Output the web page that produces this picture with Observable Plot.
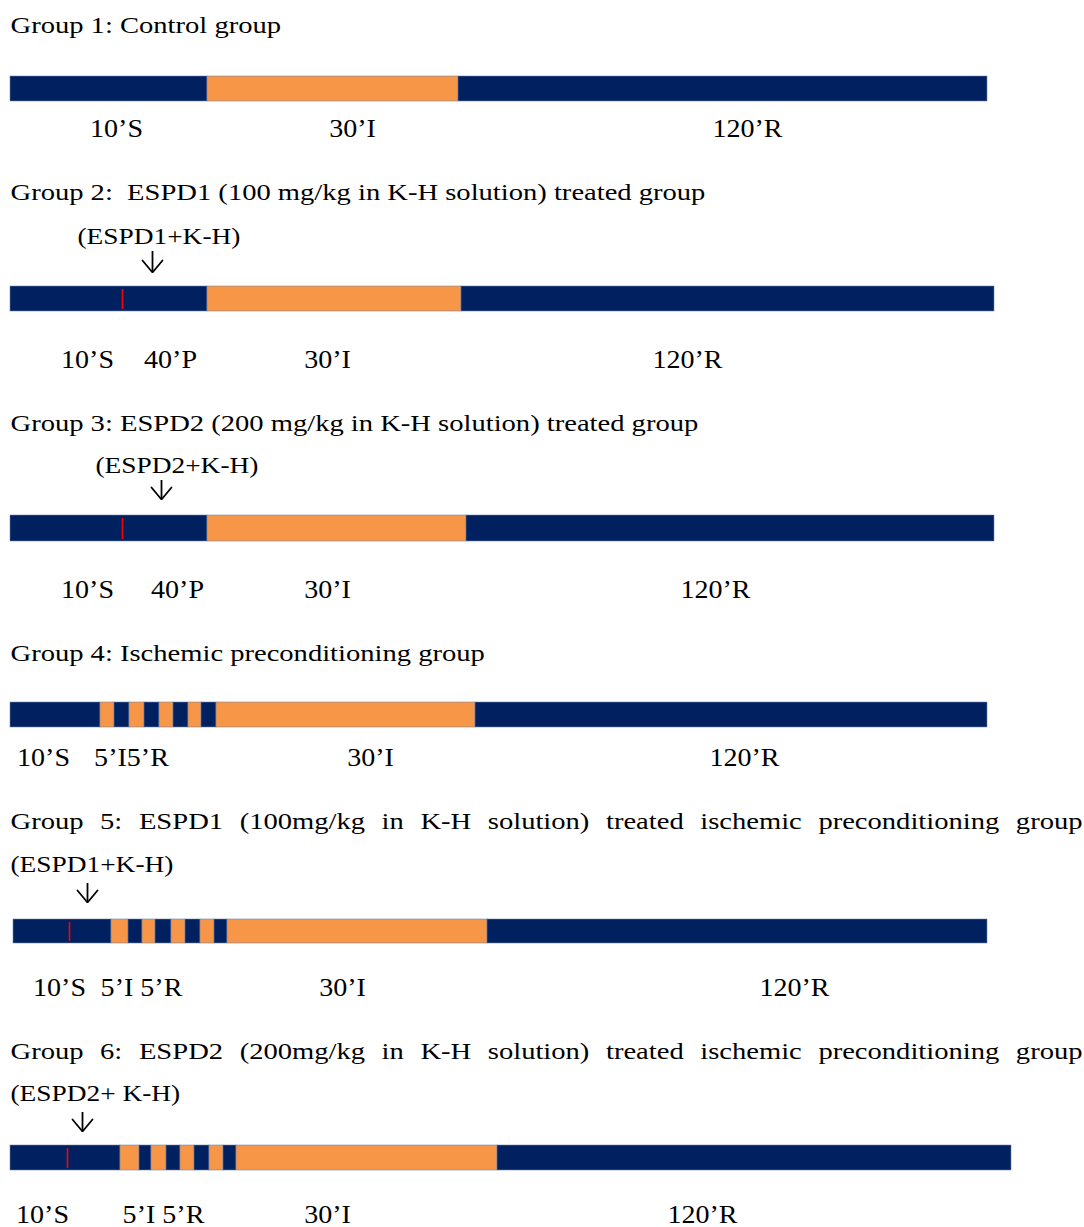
<!DOCTYPE html>
<html><head><meta charset="utf-8">
<script src="https://cdn.jsdelivr.net/npm/d3@7"></script>
<script src="https://cdn.jsdelivr.net/npm/@observablehq/plot@0.6"></script>
<style>
body{margin:0;background:#fff}
#chart svg text{white-space:pre}
</style>
</head><body><div id="chart"></div>
<script>
// ---- content ----
const groupTitles = [
  "Group 1: Control group",
  "Group 2:  ESPD1 (100 mg/kg in K-H solution) treated group",
  "Group 3: ESPD2 (200 mg/kg in K-H solution) treated group",
  "Group 4: Ischemic preconditioning group",
  "Group 5: ESPD1 (100mg/kg in K-H solution) treated ischemic preconditioning group",
  "Group 6: ESPD2 (200mg/kg in K-H solution) treated ischemic preconditioning group"
];
const justifiedTitle = [false, false, false, false, true, true];
const drugNotes = ["", "(ESPD1+K-H)", "(ESPD2+K-H)", "", "(ESPD1+K-H)", "(ESPD2+ K-H)"];
const drugNoteX = [null, 77, 95, null, 10, 10];
// boundaries of the alternating phases (perfusion / ischemia) along each bar
const phaseBounds = [
  [10, 207, 458, 987],
  [10, 207, 461, 994],
  [10, 207, 466, 994],
  [10, 100, 114, 129, 144, 159, 173, 188, 201, 216, 475, 987],
  [13, 111, 128, 142, 155, 171, 185, 200, 214, 227, 487, 987],
  [10, 120, 139, 151, 166, 180, 194, 209, 223, 236, 497, 1011]
];
const phaseLabels = [
  ["10’S", "30’I", "120’R"],
  ["10’S", "40’P", "30’I", "120’R"],
  ["10’S", "40’P", "30’I", "120’R"],
  ["10’S", "5’I5’R", "30’I", "120’R"],
  ["10’S", "5’I 5’R", "30’I", "120’R"],
  ["10’S", "5’I 5’R", "30’I", "120’R"]
];
const phaseLabelX = [
  [116, 352, 747],
  [87, 170, 327, 687],
  [87, 177, 327, 715],
  [43, 131, 370, 744],
  [59, 141, 342, 794],
  [42, 163, 327, 702]
];
const injectionX = [null, 122, 122, null, 69, 67];
const arrowX = [null, 152, 161, null, 87, 82];

// ---- vertical layout of each row ----
const titleY = [32, 199, 430, 660, 828, 1058];
const noteY = [null, 243, 472, null, 871, 1100];
const arrowTop = [null, 251, 480, null, 883, 1112];
const arrowBottom = [null, 272, 499, null, 902, 1131];
const barTop = [76, 286, 515, 702, 919, 1145];
const barBottom = [101, 311, 541, 727, 943, 1170];
const labelY = [136, 367, 597, 765, 995, 1222];

// ---- derived tables ----
const idx = d3.range(groupTitles.length);
const segments = phaseBounds.flatMap((b, g) =>
  b.slice(0, -1).map((x, i) => ({g, x1: x, x2: b[i + 1], phase: i % 2 ? "ischemia" : "perfusion"})));
const labels = phaseLabels.flatMap((ls, g) => ls.map((t, i) => ({g, text: t, x: phaseLabelX[g][i]})));
const titles = idx.map(g => ({g, text: groupTitles[g], justify: justifiedTitle[g]}));
const notes = idx.filter(g => drugNotes[g]).map(g => ({g, text: drugNotes[g], x: drugNoteX[g]}));
const arrows = idx.filter(g => arrowX[g] != null).map(g => ({g, x: arrowX[g]}));
const arrowHeads = arrows.flatMap(a => [
  {g: a.g, x: a.x - 10, y: arrowBottom[a.g] - 12},
  {g: a.g, x: a.x, y: arrowBottom[a.g]},
  {g: a.g, x: a.x + 10, y: arrowBottom[a.g] - 12}
]);
const injections = idx.filter(g => injectionX[g] != null).map(g => ({g, x: injectionX[g]}));

const W = 1084, H = 1227;
const serif = "'Liberation Serif', 'Times New Roman', serif";
const chart = Plot.plot({
  width: W, height: H,
  margin: 0,
  x: {domain: [0, W], range: [0, W], axis: null},
  y: {domain: [0, H], range: [0, H], axis: null},
  color: {domain: ["perfusion", "ischemia"], range: ["#002060", "#F79646"]},
  style: {fontFamily: serif, fontSize: "24px", background: "#fff", color: "#000"},
  marks: [
    Plot.rect(segments, {
      x1: "x1", x2: "x2",
      y1: d => barTop[d.g], y2: d => barBottom[d.g],
      fill: "phase", stroke: "#6f85ad", strokeWidth: 0.8, strokeOpacity: 0.7
    }),
    Plot.ruleX(injections, {
      x: "x", y1: d => barTop[d.g] + 3, y2: d => barBottom[d.g] - 2,
      stroke: "#ff0000", strokeWidth: 1.6
    }),
    Plot.ruleX(arrows, {
      x: "x", y1: d => arrowTop[d.g], y2: d => arrowBottom[d.g],
      stroke: "#000", strokeWidth: 1.8
    }),
    Plot.line(arrowHeads, {
      x: "x", y: "y", z: "g", stroke: "#000", strokeWidth: 1.8, strokeLinejoin: "miter"
    }),
    Plot.text(titles, {
      x: () => 10, y: d => titleY[d.g], text: "text",
      textAnchor: "start", lineAnchor: "bottom", fill: "#000", fontSize: 24,
      className: "group-title"
    }),
    Plot.text(notes, {
      x: "x", y: d => noteY[d.g], text: "text",
      textAnchor: "start", lineAnchor: "bottom", fill: "#000", fontSize: 24,
      className: "drug-note"
    }),
    Plot.text(labels, {
      x: "x", y: d => labelY[d.g], text: "text",
      textAnchor: "middle", lineAnchor: "bottom", fill: "#000", fontSize: 25.5,
      className: "phase-label"
    })
  ]
});
document.getElementById("chart").appendChild(chart);

// The source document's type is horizontally wide; widen the glyphs to match,
// and justify the two long titles to the right margin.
const rightEdge = 1082;
function widen(sel, k, justifyOf) {
  d3.select(chart).selectAll(sel + " text").each(function(d, i) {
    const just = justifyOf && justifyOf(i);
    if (just) {
      const s = this.textContent;
      const spaces = (s.match(/ /g) || []).length;
      const len = this.getComputedTextLength();
      const target = rightEdge - 10;
      const ws = (target / k - len) / spaces;
      this.style.wordSpacing = ws + "px";
      this.setAttribute("textLength", target);
    } else {
      this.setAttribute("textLength", this.getComputedTextLength() * k);
    }
    this.setAttribute("lengthAdjust", "spacingAndGlyphs");
  });
}
widen(".group-title", 1.19, i => titles[i] && titles[i].justify);
widen(".drug-note", 1.14);
widen(".phase-label", 1.1);
</script>
</body></html>
